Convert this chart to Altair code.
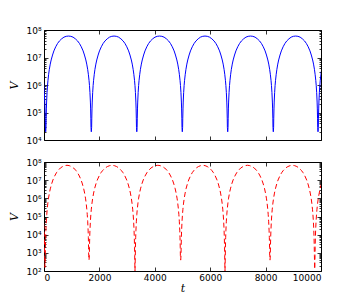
import altair as alt
import pandas as pd

# ---- data ----
# times (t) of the minima of each arch, including the partial arches that run off both edges
TOP_MIN_T = [-1579, 61, 1708, 3350, 4993, 6632, 8278, 9892, 11532]
TOP_MIN_LOG = [4.3, 4.3, 4.3, 4.3, 4.3, 4.3, 4.3, 4.3, 4.3]
# shape of one half-arch: fraction of the arch from its minimum, and log10(V)
TOP_PROFILE_F = [0.007, 0.01, 0.015, 0.02, 0.03, 0.04, 0.05, 0.065, 0.08, 0.1, 0.12,
                 0.15, 0.18, 0.22, 0.26, 0.3, 0.35, 0.4, 0.45, 0.5]
TOP_PROFILE_LOG = [4.46, 4.77, 5.13, 5.38, 5.73, 5.98, 6.17, 6.39, 6.57, 6.76, 6.91,
                   7.09, 7.24, 7.39, 7.51, 7.60, 7.68, 7.74, 7.77, 7.78]

BOT_MIN_T = [-1600, 36, 1625, 3285, 4935, 6534, 8159, 9773, 11400]
BOT_MIN_LOG = [2.2, 2.2, 2.6, 2.0, 2.6, 2.0, 2.6, 2.1, 2.6]
BOT_PROFILE_F = [0.007, 0.01, 0.015, 0.02, 0.03, 0.04, 0.05, 0.065, 0.08, 0.1, 0.12,
                 0.15, 0.18, 0.22, 0.26, 0.3, 0.35, 0.4, 0.45, 0.5]
BOT_PROFILE_LOG = [2.85, 3.31, 3.84, 4.21, 4.74, 5.11, 5.40, 5.74, 6.01, 6.29, 6.52,
                   6.79, 7.01, 7.23, 7.41, 7.54, 7.67, 7.75, 7.80, 7.82]

X_TICKS = [0, 2000, 4000, 6000, 8000, 10000]
TOP_Y_MAJOR = [1e4, 1e5, 1e6, 1e7, 1e8]
BOT_Y_MAJOR = [1e2, 1e3, 1e4, 1e5, 1e6, 1e7, 1e8]
MINOR_MULT = [2, 3, 4, 5, 6, 7, 8, 9]


def build(min_t, min_log, prof_f, prof_log):
    rows = []
    for i in range(len(min_t) - 1):
        a, b = min_t[i], min_t[i + 1]
        span = b - a
        rows.append((a, min_log[i]))
        for f, lg in zip(prof_f, prof_log):
            rows.append((a + f * span, lg))
        for f, lg in reversed(list(zip(prof_f[:-1], prof_log[:-1]))):
            rows.append((b - f * span, lg))
    rows.append((min_t[-1], min_log[-1]))
    return pd.DataFrame({"t": [r[0] for r in rows], "V": [10 ** r[1] for r in rows]})


top_df = build(TOP_MIN_T, TOP_MIN_LOG, TOP_PROFILE_F, TOP_PROFILE_LOG)
bot_df = build(BOT_MIN_T, BOT_MIN_LOG, BOT_PROFILE_F, BOT_PROFILE_LOG)


def y_ticks(majors):
    vals = list(majors)
    for m in majors[:-1]:
        vals += [k * m for k in MINOR_MULT]
    return sorted(vals)


IS_MAJOR = "abs(log(datum.value)/LN10 - round(log(datum.value)/LN10)) < 0.001"
SUP = "['⁰','¹','²','³','⁴','⁵','⁶','⁷','⁸','⁹']"
LABEL_EXPR = f"({IS_MAJOR}) ? '10' + {SUP}[round(log(datum.value)/LN10)] : ''"

TICK_SIZE_Y = {"condition": {"test": IS_MAJOR, "expr": "-4"}, "expr": "-2"}
LABEL_FONT = "DejaVu Sans"
LABEL_SIZE = 9


def panel(df, color, dash, majors, show_x_labels):
    ymin, ymax = majors[0], majors[-1]
    xscale = alt.Scale(domain=[0, 10000], nice=False, zero=False)
    yscale = alt.Scale(type="log", domain=[ymin, ymax], nice=False)
    common_axis = dict(domain=False, grid=False, tickColor="black", tickWidth=0.8,
                       labelFont=LABEL_FONT, labelFontSize=LABEL_SIZE, labelColor="black")
    if show_x_labels:
        x_axis = alt.Axis(values=X_TICKS, tickSize={"expr": "-4"}, labelPadding=6,
                          format="d", title="t",
                          titleFont="DejaVu Serif", titleFontStyle="italic",
                          titleFontWeight="normal", titleFontSize=11, titlePadding=0,
                          **common_axis)
    else:
        x_axis = alt.Axis(values=X_TICKS, tickSize={"expr": "-4"}, labels=False, title=None,
                          minExtent=0, maxExtent=0, **common_axis)
    y_axis = alt.Axis(values=y_ticks(majors), tickSize=TICK_SIZE_Y, labelExpr=LABEL_EXPR,
                      labelPadding=7, title="V", titleFont="DejaVu Serif",
                      titleFontStyle="italic", titleFontWeight="normal", titleFontSize=11,
                      titlePadding=6, **common_axis)
    mark_kw = dict(color=color, strokeWidth=1, clip=True)
    if dash:
        mark_kw["strokeDash"] = dash
    line = alt.Chart(df).mark_line(**mark_kw).encode(
        x=alt.X("t:Q", scale=xscale, axis=x_axis),
        y=alt.Y("V:Q", scale=yscale, axis=y_axis),
    )
    x_axis2 = alt.Axis(values=X_TICKS, tickSize={"expr": "-4"}, labels=False, title=None,
                       orient="top", minExtent=0, maxExtent=0, **common_axis)
    y_axis2 = alt.Axis(values=y_ticks(majors), tickSize=TICK_SIZE_Y, labels=False,
                       title=None, orient="right", minExtent=0, maxExtent=0, **common_axis)
    ghost = alt.Chart(df).mark_line(opacity=0, clip=True).encode(
        x=alt.X("t:Q", scale=xscale, axis=x_axis2),
        y=alt.Y("V:Q", scale=yscale, axis=y_axis2),
    )
    return alt.layer(line, ghost).resolve_axis(x="independent", y="independent")


top = panel(top_df, "#0000ff", None, TOP_Y_MAJOR, False).properties(width=277, height=110)
bottom = panel(bot_df, "#ff0000", [5, 3], BOT_Y_MAJOR, True).properties(width=277, height=109)

chart = (
    alt.vconcat(top, bottom, spacing=11)
    .properties(background="white", padding={"left": 0, "top": 17, "right": 5, "bottom": 0})
    .configure_view(stroke="black", strokeWidth=1)
)

chart.save("out.html", embed_options={"renderer": "svg", "actions": False})
